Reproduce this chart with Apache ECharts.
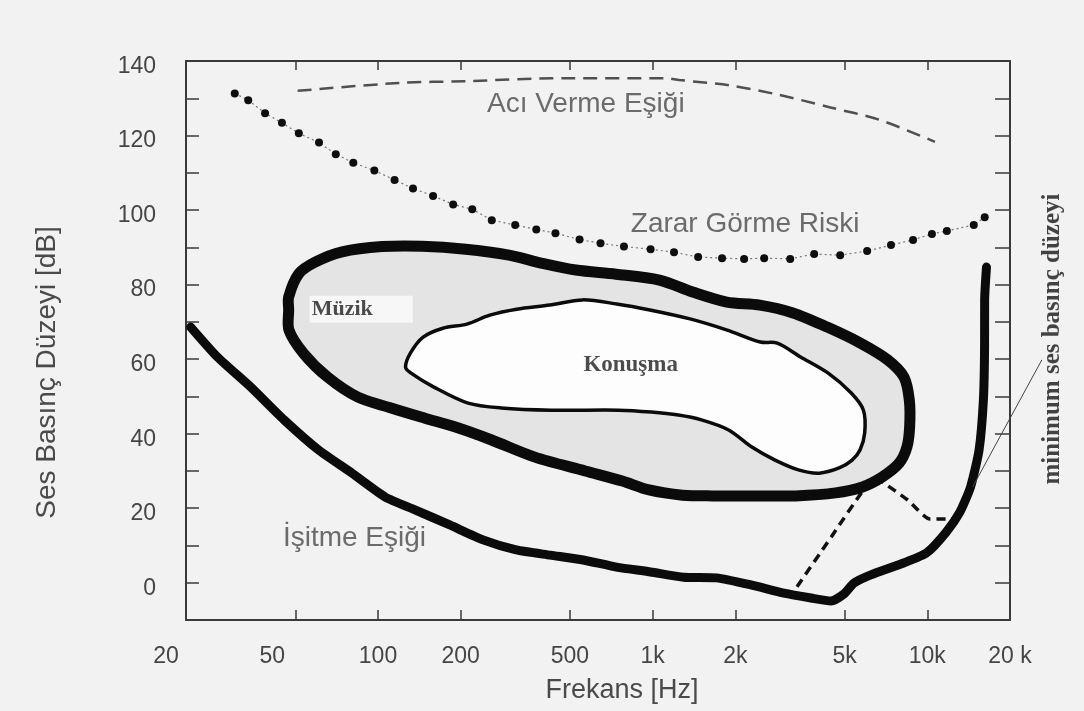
<!DOCTYPE html>
<html><head><meta charset="utf-8">
<script src="https://cdn.jsdelivr.net/npm/echarts@6/dist/echarts.min.js"></script>
<style>html,body{margin:0;padding:0;background:#f2f2f2;}#c{width:1084px;height:711px;}</style>
</head><body><div id="c"></div>
<script>
// ---- axis ticks ----
const xTickHz = [20, 50, 100, 200, 500, 1000, 2000, 5000, 10000, 20000];
const xTickLabels = ['20', '50', '100', '200', '500', '1k', '2k', '5k', '10k', '20 k'];
const yTickLabelValues = [0, 20, 40, 60, 80, 100, 120, 140];

// ---- Acı Verme Eşiği (dashed) ----
const painHz = [51, 119, 210, 484, 1120, 1250, 1900, 2890, 4400, 6700, 10660];
const painDb = [132, 134.1, 134.6, 135.4, 135.4, 134.9, 133.5, 130.9, 127.6, 124.2, 118.3];

// ---- Zarar Görme Riski (dots) ----
const riskHz = [30.1, 33.7, 38.8, 44.7, 51.5, 61.0, 70.2, 81.3, 97.0, 114.9, 134.1, 158.7, 187.8, 220.4, 259.6, 315.9, 377, 442.6, 541.8, 646, 786, 983, 1196, 1464, 1789, 2153, 2547, 3168, 3873, 4817, 6038, 7376, 8872, 10394, 11780, 14760, 16180];
const riskDb = [131.3, 129.5, 126.0, 123.4, 120.6, 118.1, 115.0, 112.7, 110.6, 108.1, 105.8, 103.8, 101.5, 100.2, 97.3, 96.0, 94.8, 93.8, 92.1, 91.1, 90.2, 89.5, 88.7, 87.4, 87.1, 86.9, 87.1, 86.9, 88.2, 87.9, 89.0, 90.6, 92.0, 93.6, 94.4, 96.0, 98.1];

// ---- Müzik contour (closed) ----
const musicHz = [47.3, 47.3, 51.6, 59.3, 74.0, 103.5, 144.8, 208.4, 299.9, 396.8, 525.8, 735.7, 1058, 1398, 1862, 2456, 3243, 4320, 5706, 7176, 8219, 8600, 8622, 8430, 7902, 6863, 5807, 4634, 3315, 2512, 1652, 1284, 970.6, 775, 567.8, 372.7, 259.2, 196.3, 147.4, 111.6, 84.5, 65.5, 53.5, 47.4];
const musicDb = [73.2, 76.7, 83.0, 86.1, 88.8, 90.2, 90.3, 89.5, 87.9, 85.7, 83.9, 82.8, 81.2, 78.0, 75.3, 74.5, 72.4, 68.6, 64.3, 59.8, 55.2, 49.0, 41.8, 36.4, 32.1, 28.4, 25.7, 24.1, 23.3, 23.3, 23.3, 23.5, 24.9, 27.3, 30.0, 33.7, 38.3, 41.5, 44.2, 46.9, 49.8, 55.2, 61.6, 67.8];

// ---- Konuşma contour (closed) ----
const speechHz = [126.0, 131.2, 146.0, 172.4, 210.8, 255.3, 319.9, 421.8, 556, 740, 977, 1368, 1868, 2466, 2844, 3455, 4345, 5284, 5853, 5916, 5688, 5323, 4776, 4043, 3418, 2790, 2297, 1891, 1505, 1241, 988.6, 749.5, 427.2, 280.9, 212.8, 159.8, 131.5];
const speechDb = [57.9, 61.6, 65.9, 68.3, 69.4, 71.8, 73.4, 74.5, 75.9, 74.8, 73.2, 70.8, 67.8, 64.6, 64.3, 60.6, 56.3, 50.9, 46.3, 40.2, 35.6, 32.9, 30.8, 29.4, 30.2, 32.9, 36.4, 41.0, 43.7, 45.0, 45.8, 46.3, 46.3, 46.9, 48.2, 52.5, 56.3];

// ---- İşitme Eşiği ----
const hearHz = [20.8, 26.0, 34.4, 45.5, 60.8, 80.4, 106.3, 137.0, 182.5, 241.3, 318.6, 424, 559, 738, 982.6, 1297, 1711, 2278, 3006, 3773, 4462, 4973, 5404, 6227, 8200, 9936, 11720, 13150, 14370, 15430, 16000, 16160, 16170, 16420];
const hearDb = [68.6, 60.6, 52.5, 43.7, 35.6, 29.4, 23.0, 19.5, 15.5, 11.5, 8.8, 7.4, 6.1, 4.2, 2.9, 1.5, 1.3, -0.6, -2.8, -4.1, -4.9, -3.0, -0.1, 2.1, 5.3, 8.0, 13.6, 19.0, 25.7, 35.6, 49.0, 63.2, 75.9, 84.7];

// ---- dashed curve (lower right) ----
const minHz = [3354, 4470, 5957, 6418, 6864, 8487, 10230, 12100, 13260];
const minDb = [-1.1, 12.3, 25.7, 28.1, 27.0, 22.2, 17.1, 17.1, 17.6];

// ---- pointer line to annotation ----
const pointerHz = [14620, 26120];
const pointerDb = [25.7, 59.8];

// ---- text labels ----
const labelText = ['Acı Verme Eşiği', 'Zarar Görme Riski', 'İşitme Eşiği', 'Müzik', 'Konuşma', 'minimum ses basınç düzeyi'];
const labelHz = [571, 2171, 82.1, 56.4, 831.8, 28680];
const labelDb = [128.4, 96.1, 12.0, 73.4, 58.4, 65.4];

// ---------------------------------------------------------
const L = Math.log10;
const LX = xTickHz.map(L);
const xMin = LX[0], xMax = LX[LX.length - 1];
const pairs = (hz, db) => hz.map((h, i) => [L(h), db[i]]);
const SANS = 'Liberation Sans';
const SERIF = 'Liberation Serif';
const FRAME = '#3a3a3a';
const LABEL = '#454545';

function shapeSeries(name, hz, db, z, closed, style, smooth) {
  return {
    type: 'custom', name: name, z: z, silent: true, clip: false,
    coordinateSystem: 'cartesian2d',
    data: pairs(hz, db),
    encode: { x: 0, y: 1 },
    renderItem: function (params, api) {
      if (params.dataIndex !== 0) return null;
      const pts = hz.map((h, i) => api.coord([L(h), db[i]]));
      return {
        type: closed ? 'polygon' : 'polyline',
        shape: { points: pts, smooth: smooth },
        style: style
      };
    }
  };
}

const labelStyles = [
  { fontFamily: SANS, fontSize: 28, color: '#484848' },
  { fontFamily: SANS, fontSize: 28, color: '#484848' },
  { fontFamily: SANS, fontSize: 28, color: '#484848' },
  { fontFamily: SERIF, fontWeight: 'bold', fontSize: 22, color: '#1e1e1e', align: 'left', backgroundColor: '#fbfbfb', padding: [3, 40, 2, 2] },
  { fontFamily: SERIF, fontWeight: 'bold', fontSize: 23, color: '#1e1e1e' },
  { fontFamily: SERIF, fontWeight: 'bold', fontSize: 25, color: '#151515', rotate: 90 }
];

const yFmt = function (v) {
  const r = Math.round(v);
  return (Math.abs(v - r) < 1e-6 && yTickLabelValues.indexOf(r) >= 0) ? '{a|' + r + '}' : '';
};

const chart = echarts.init(document.getElementById('c'), null, { renderer: 'canvas' });
chart.setOption({
  backgroundColor: '#f2f2f2',
  animation: false,
  grid: { left: 186, right: 74, top: 61, bottom: 91, outerBoundsMode: 'none' },
  xAxis: [
    {
      type: 'value', min: xMin, max: xMax, position: 'bottom',
      axisLine: { show: true, onZero: false, lineStyle: { color: FRAME, width: 2 } },
      axisTick: { show: true, inside: true, length: 10, customValues: LX.slice(1, -1), lineStyle: { color: FRAME, width: 1.5 } },
      axisLabel: {
        show: true, customValues: LX, margin: 25, color: LABEL, fontSize: 23, fontFamily: SANS,
        formatter: function (v) {
          let i = 0, best = 1e9;
          LX.forEach((l, k) => { const d = Math.abs(l - v); if (d < best) { best = d; i = k; } });
          const t = xTickLabels[i];
          return i <= 1 ? '{s' + i + '|' + t + '}' : t;
        },
        rich: {
          s0: { padding: [0, 40, 0, 0], fontSize: 23, color: LABEL, fontFamily: SANS },
          s1: { padding: [0, 46, 0, 0], fontSize: 23, color: LABEL, fontFamily: SANS }
        }
      },
      splitLine: { show: false },
      name: 'Frekans [Hz]', nameLocation: 'middle', nameGap: 57,
      nameTextStyle: { fontFamily: SANS, fontSize: 27, color: '#4a4a4a', padding: [0, 0, 0, 48] }
    },
    {
      type: 'value', min: xMin, max: xMax, position: 'top',
      axisLine: { show: true, onZero: false, lineStyle: { color: FRAME, width: 2 } },
      axisTick: { show: true, inside: true, length: 9, customValues: LX.slice(1, -1), lineStyle: { color: FRAME, width: 1.5 } },
      axisLabel: { show: false },
      splitLine: { show: false }
    }
  ],
  yAxis: [
    {
      type: 'value', min: -10, max: 140, interval: 10, position: 'left',
      axisLine: { show: true, onZero: false, lineStyle: { color: FRAME, width: 2 } },
      axisTick: { show: true, inside: true, length: 13, lineStyle: { color: FRAME, width: 1.5 } },
      axisLabel: {
        margin: 30, color: LABEL, fontSize: 23, fontFamily: SANS, formatter: yFmt,
        rich: { a: { padding: [11, 0, 0, 0], fontSize: 23, color: LABEL, fontFamily: SANS } }
      },
      splitLine: { show: false },
      name: 'Ses Basınç Düzeyi [dB]', nameLocation: 'middle', nameGap: 125,
      nameTextStyle: { fontFamily: SANS, fontSize: 28, color: '#4a4a4a', padding: [0, 64, 0, 0] }
    },
    {
      type: 'value', min: -10, max: 140, interval: 10, position: 'right',
      axisLine: { show: true, onZero: false, lineStyle: { color: FRAME, width: 2 } },
      axisTick: { show: true, inside: true, length: 15, lineStyle: { color: FRAME, width: 1.5 } },
      axisLabel: { show: false },
      splitLine: { show: false }
    }
  ],
  series: [
    {
      type: 'line', name: 'dashed', z: 2, data: pairs(minHz, minDb), symbol: 'none', smooth: 0.2,
      lineStyle: { color: '#111', width: 3.5, type: [9, 6] }, silent: true
    },
    shapeSeries('Müzik', musicHz, musicDb, 3, true,
      { fill: '#e4e4e4', stroke: '#0b0b0b', lineWidth: 11, lineJoin: 'round' }, 0.3),
    shapeSeries('Konuşma', speechHz, speechDb, 4, true,
      { fill: '#fdfdfd', stroke: '#0b0b0b', lineWidth: 3.5, lineJoin: 'round' }, 0.3),
    {
      type: 'line', name: 'İşitme Eşiği', z: 5, data: pairs(hearHz, hearDb), symbol: 'none', smooth: 0.2,
      lineStyle: { color: '#0b0b0b', width: 9, cap: 'round', join: 'round' }, silent: true
    },
    {
      type: 'line', name: 'Zarar Görme Riski', z: 6, data: pairs(riskHz, riskDb), symbol: 'circle', symbolSize: 8,
      itemStyle: { color: '#0e0e0e' }, lineStyle: { color: '#777', width: 1.2, type: [2, 3] }, silent: true
    },
    {
      type: 'line', name: 'Acı Verme Eşiği', z: 6, data: pairs(painHz, painDb), symbol: 'none', smooth: 0.3,
      lineStyle: { color: '#505050', width: 2.5, type: [14, 8] }, silent: true
    },
    shapeSeries('pointer', pointerHz, pointerDb, 6, false,
      { fill: null, stroke: '#444', lineWidth: 1 }, 0),
    {
      type: 'scatter', name: 'labels', z: 10, clip: false, symbolSize: 0, silent: true,
      data: labelText.map((t, i) => ({
        name: t, value: [L(labelHz[i]), labelDb[i]],
        label: Object.assign({ show: true, position: 'inside', formatter: '{b}', align: 'center', verticalAlign: 'middle' }, labelStyles[i])
      }))
    }
  ]
});
</script>
</body></html>
